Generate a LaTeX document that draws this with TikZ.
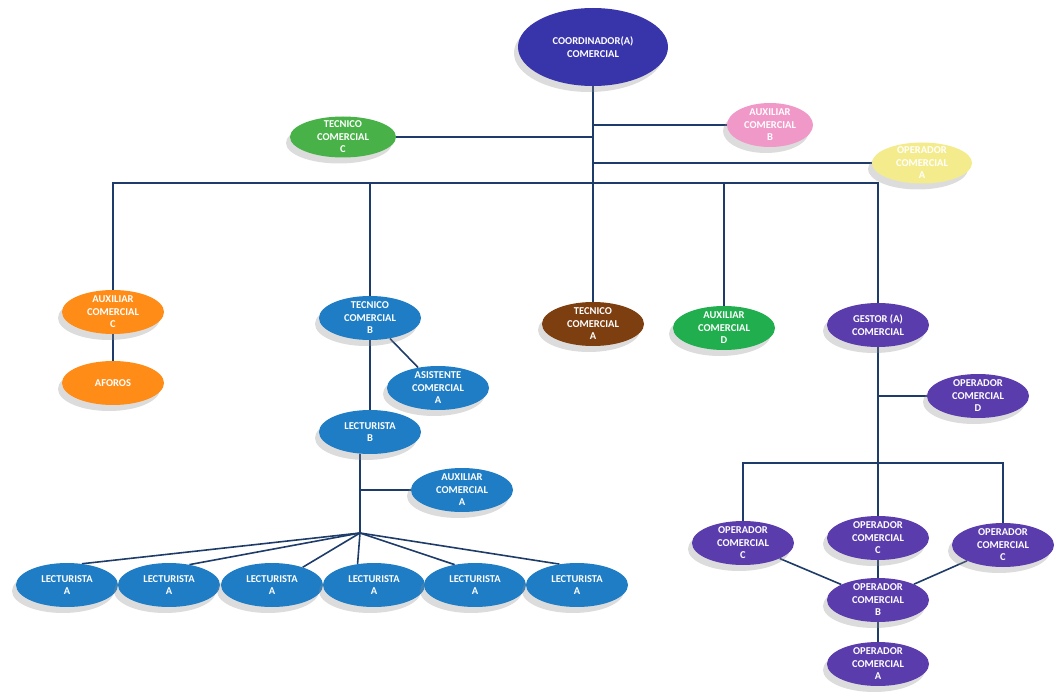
\documentclass[tikz,border=0pt]{standalone}
\usepackage{fontspec}
\setmainfont{Carlito}
\usetikzlibrary{positioning,shapes,shadows,backgrounds}

\definecolor{coordblue}{RGB}{56,52,170}
\definecolor{opviolet}{RGB}{90,60,172}
\definecolor{auxpink}{RGB}{240,152,200}
\definecolor{tecgreen}{RGB}{72,178,72}
\definecolor{auxgreen}{RGB}{32,174,78}
\definecolor{opyellow}{RGB}{244,236,140}
\definecolor{auxorange}{RGB}{255,140,22}
\definecolor{lecblue}{RGB}{30,125,196}
\definecolor{tecbrown}{RGB}{125,62,16}
\definecolor{linknavy}{RGB}{30,60,105}

\begin{document}
\begin{tikzpicture}[auto,node distance=10pt,on grid,
	puesto/.style={ellipse,fill=#1,text=white,inner xsep=2pt,inner ysep=-4pt,
		minimum width=102pt,minimum height=44pt,align=center,
		font=\fontsize{10.5}{12.5}\selectfont\bfseries,
		drop shadow={shadow xshift=-4pt,shadow yshift=-6pt,fill=black!45,opacity=.3}},
	jefe/.style={puesto=#1,minimum width=150pt,minimum height=78pt},
	links/.style={draw=linknavy,line width=1.6pt}
	]
\useasboundingbox (0,0) rectangle (1061pt,-698pt);

% top level
\node [jefe=coordblue] (coord) at (593pt,-47pt) {COORDINADOR(A)\\COMERCIAL};
\node [puesto=auxpink,minimum width=86pt] (auxB) [below right = 78pt and 177pt of coord] {AUXILIAR\\COMERCIAL\\B};
\node [puesto=tecgreen,minimum width=106pt,minimum height=41pt] (tecC) [below left = 90pt and 250pt of coord] {TECNICO\\COMERCIAL\\C};
\node [puesto=opyellow,minimum width=100pt,minimum height=41pt] (opA) [below right = 116pt and 329pt of coord] {OPERADOR\\COMERCIAL\\A};
\coordinate [below = 136pt of coord] (bus);

% second row
\node [puesto=auxorange] (auxC) [below left = 265pt and 480pt of coord] {AUXILIAR\\COMERCIAL\\C};
\node [puesto=lecblue] (tecB) [below left = 271pt and 223pt of coord] {TECNICO\\COMERCIAL\\B};
\node [puesto=tecbrown] (tecA) [below = 277pt of coord] {TECNICO\\COMERCIAL\\A};
\node [puesto=auxgreen] (auxD) [below right = 281pt and 131pt of coord] {AUXILIAR\\COMERCIAL\\D};
\node [puesto=opviolet] (gestor) [below right = 278pt and 285pt of coord] {GESTOR (A)\\COMERCIAL};

% lectura branch
\node [puesto=auxorange] (aforos) [below = 71pt of auxC] {AFOROS};
\node [puesto=lecblue] (asisA) [below right = 70pt and 68pt of tecB] {ASISTENTE\\COMERCIAL\\A};
\node [puesto=lecblue] (lecB) [below = 114pt of tecB] {LECTURISTA\\B};
\node [puesto=lecblue] (auxA) [below right = 58pt and 92pt of lecB] {AUXILIAR\\COMERCIAL\\A};
\coordinate [below left = 101pt and 10pt of lecB] (hub);
\node [puesto=lecblue] (lecA1) [below left = 153pt and 303pt of lecB] {LECTURISTA\\A};
\node [puesto=lecblue] (lecA2) [right = 102pt of lecA1] {LECTURISTA\\A};
\node [puesto=lecblue] (lecA3) [right = 103pt of lecA2] {LECTURISTA\\A};
\node [puesto=lecblue] (lecA4) [right = 102pt of lecA3] {LECTURISTA\\A};
\node [puesto=lecblue] (lecA5) [right = 101pt of lecA4] {LECTURISTA\\A};
\node [puesto=lecblue] (lecA6) [right = 102pt of lecA5] {LECTURISTA\\A};

% operadores
\node [puesto=opviolet] (opD) [below right = 71pt and 100pt of gestor] {OPERADOR\\COMERCIAL\\D};
\coordinate [below = 138pt of gestor] (gbus);
\node [puesto=opviolet] (opC2) [below = 213pt of gestor] {OPERADOR\\COMERCIAL\\C};
\node [puesto=opviolet] (opC1) [below left = 5pt and 135pt of opC2] {OPERADOR\\COMERCIAL\\C};
\node [puesto=opviolet] (opC3) [below right = 7pt and 125pt of opC2] {OPERADOR\\COMERCIAL\\C};
\node [puesto=opviolet] (opB) [below = 62pt of opC2] {OPERADOR\\COMERCIAL\\B};
\node [puesto=opviolet] (opA2) [below = 64pt of opB] {OPERADOR\\COMERCIAL\\A};

\begin{scope}[on background layer]
% trunk and staff
\draw [links] (coord) -- (tecA);
\draw [links] (auxB.west -| coord) -- (auxB);
\draw [links] (tecC) -- (tecC.east -| coord);
\draw [links] (opA.west -| coord) -- (opA);
\draw [links] (auxC) |- (bus) -| (gestor);
\draw [links] (bus -| tecB) -- (tecB);
\draw [links] (bus -| auxD) -- (auxD);

% lectura lines
\draw [links] (auxC) -- (aforos);
\draw [links] (tecB) -- (lecB);
\draw [links] (tecB) -- (asisA);
\draw [links] (lecB.south -| hub) -- (hub);
\draw [links] (auxA.west -| hub) -- (auxA);
\draw [links] (hub) -- (lecA1.55);
\draw [links] (hub) -- (lecA2.45);
\draw [links] (hub) -- (lecA3.30);
\draw [links] (hub) -- (lecA4.128);
\draw [links] (hub) -- (lecA5.135);
\draw [links] (hub) -- (lecA6.130);

% operador lines
\draw [links] (gestor) -- (opC2);
\draw [links] (opD.west -| gestor) -- (opD);
\draw [links] (opC1) |- (gbus) -| (opC3);
\draw [links] (opC1) -- (opB);
\draw [links] (opC2) -- (opB);
\draw [links] (opC3) -- (opB);
\draw [links] (opB) -- (opA2);
\end{scope}
\end{tikzpicture}
\end{document}
